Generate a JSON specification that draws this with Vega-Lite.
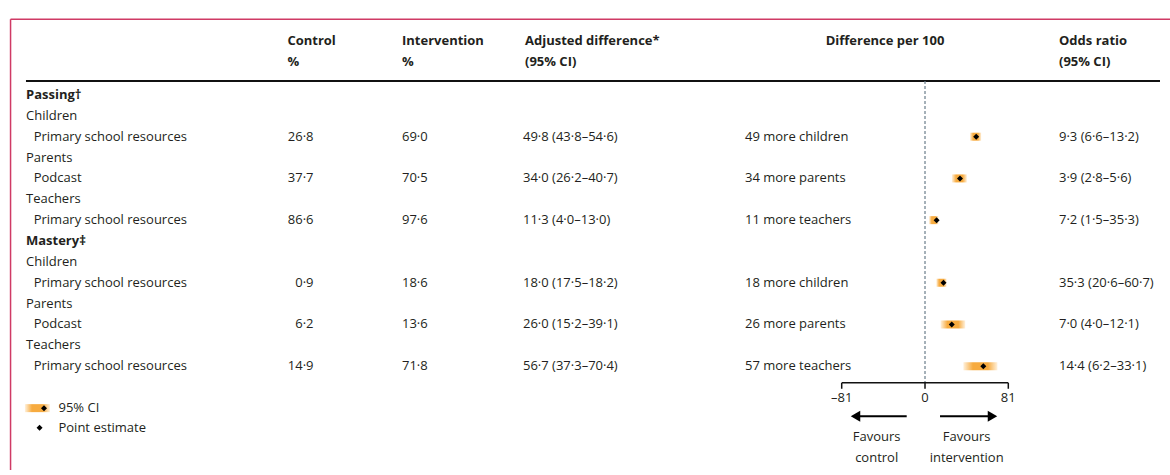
{
  "$schema": "https://vega.github.io/schema/vega-lite/v6.json",
  "width": 1170,
  "height": 475,
  "autosize": {"type": "none"},
  "padding": 0,
  "background": "white",
  "config": {
    "view": {"stroke": null},
    "text": {"font": "Open Sans", "fontSize": 13, "color": "#231f20", "baseline": "middle"}
  },
  "datasets": {
    "frame": [{"part": "frame"}],
    "rows": [
      {"line": 0, "label": "Passing†", "kind": "section"},
      {"line": 1, "label": "Children", "kind": "group"},
      {"line": 2, "label": "Primary school resources", "kind": "item", "control": "26·8", "intervention": "69·0", "adjusted": "49·8 (43·8–54·6)", "per100": "49 more children", "odds": "\u20079·3 (6·6–13·2)", "est": 49.8, "lo": 43.8, "hi": 54.6},
      {"line": 3, "label": "Parents", "kind": "group"},
      {"line": 4, "label": "Podcast", "kind": "item", "control": "37·7", "intervention": "70·5", "adjusted": "34·0 (26·2–40·7)", "per100": "34 more parents", "odds": "\u20073·9 (2·8–5·6)", "est": 34.0, "lo": 26.2, "hi": 40.7},
      {"line": 5, "label": "Teachers", "kind": "group"},
      {"line": 6, "label": "Primary school resources", "kind": "item", "control": "86·6", "intervention": "97·6", "adjusted": "11·3 (4·0–13·0)", "per100": "11 more teachers", "odds": "\u20077·2 (1·5–35·3)", "est": 11.3, "lo": 4.0, "hi": 13.0},
      {"line": 7, "label": "Mastery‡", "kind": "section"},
      {"line": 8, "label": "Children", "kind": "group"},
      {"line": 9, "label": "Primary school resources", "kind": "item", "control": "0·9", "intervention": "18·6", "adjusted": "18·0 (17·5–18·2)", "per100": "18 more children", "odds": "35·3 (20·6–60·7)", "est": 18.0, "lo": 11.0, "hi": 21.0},
      {"line": 10, "label": "Parents", "kind": "group"},
      {"line": 11, "label": "Podcast", "kind": "item", "control": "6·2", "intervention": "13·6", "adjusted": "26·0 (15·2–39·1)", "per100": "26 more parents", "odds": "\u20077·0 (4·0–12·1)", "est": 26.0, "lo": 15.2, "hi": 39.1},
      {"line": 12, "label": "Teachers", "kind": "group"},
      {"line": 13, "label": "Primary school resources", "kind": "item", "control": "14·9", "intervention": "71·8", "adjusted": "56·7 (37·3–70·4)", "per100": "57 more teachers", "odds": "14·4 (6·2–33·1)", "est": 56.7, "lo": 37.3, "hi": 70.4}
    ],
    "headers": [
      {"col": "control", "lines": ["Control", "%"]},
      {"col": "intervention", "lines": ["Intervention", "%"]},
      {"col": "adjusted", "lines": ["Adjusted difference*", "(95% CI)"]},
      {"col": "per100", "lines": ["Difference per 100"]},
      {"col": "odds", "lines": ["Odds ratio", "(95% CI)"]}
    ],
    "ticks": [
      {"v": -81, "label": "–81"},
      {"v": 0, "label": "0"},
      {"v": 81, "label": "81"}
    ],
    "notes": [
      {"id": "ci", "text": "95% CI"},
      {"id": "pe", "text": "Point estimate"},
      {"id": "fc", "text": ["Favours", "control"]},
      {"id": "fi", "text": ["Favours", "intervention"]}
    ]
  },
  "data": {"name": "frame"},
  "layer": [
    {
      "mark": {"type": "rule", "color": "#cf3a65", "strokeWidth": 1.5},
      "encoding": {
        "x": {"datum": -889.2, "type": "quantitative", "scale": {"domain": [-899.46, 238.23], "nice": false, "zero": false}, "axis": null},
        "x2": {"datum": 238.23},
        "y": {"datum": -3.632, "type": "quantitative", "scale": {"domain": [-4.312, 17.975], "nice": false, "zero": false, "reverse": true}, "axis": null}
      }
    },
    {
      "mark": {"type": "rule", "color": "#cf3a65", "strokeWidth": 1.5},
      "encoding": {
        "x": {"datum": -889.2, "type": "quantitative", "scale": {"domain": [-899.46, 238.23], "nice": false, "zero": false}, "axis": null},
        "y": {"datum": -3.632, "type": "quantitative", "scale": {"domain": [-4.312, 17.975], "nice": false, "zero": false, "reverse": true}, "axis": null},
        "y2": {"datum": 17.975}
      }
    },
    {
      "mark": {"type": "rule", "color": "#111111", "strokeWidth": 2},
      "encoding": {
        "x": {"datum": -874.2, "type": "quantitative", "scale": {"domain": [-899.46, 238.23], "nice": false, "zero": false}, "axis": null},
        "x2": {"datum": 228.5},
        "y": {"datum": -0.666, "type": "quantitative", "scale": {"domain": [-4.312, 17.975], "nice": false, "zero": false, "reverse": true}, "axis": null}
      }
    },
    {
      "mark": {"type": "rule", "color": "#6a7d8a", "strokeWidth": 1.2, "strokeDash": [3, 2]},
      "encoding": {
        "x": {"datum": 0, "type": "quantitative", "scale": {"domain": [-899.46, 238.23], "nice": false, "zero": false}, "axis": null},
        "y": {"datum": -0.666, "type": "quantitative", "scale": {"domain": [-4.312, 17.975], "nice": false, "zero": false, "reverse": true}, "axis": null},
        "y2": {"datum": 13.799}
      }
    },
    {
      "data": {"name": "rows"},
      "transform": [{"filter": "datum.kind === 'item'"}],
      "mark": {"type": "bar", "orient": "horizontal", "height": 8, "color": {"gradient": "linear", "stops": [{"offset": 0, "color": "#fff1dc"}, {"offset": 0.28, "color": "#f7ab3f"}, {"offset": 0.72, "color": "#f7ab3f"}, {"offset": 1, "color": "#fff1dc"}]}},
      "encoding": {
        "x": {"field": "lo", "type": "quantitative", "scale": {"domain": [-899.46, 238.23], "nice": false, "zero": false}, "axis": null},
        "x2": {"field": "hi"},
        "y": {"field": "line", "type": "quantitative", "scale": {"domain": [-4.312, 17.975], "nice": false, "zero": false, "reverse": true}, "axis": null}
      }
    },
    {
      "data": {"name": "rows"},
      "transform": [{"filter": "datum.kind === 'item'"}],
      "mark": {"type": "point", "shape": "diamond", "filled": true, "color": "#000000", "size": 36, "opacity": 1},
      "encoding": {
        "x": {"field": "est", "type": "quantitative", "scale": {"domain": [-899.46, 238.23], "nice": false, "zero": false}, "axis": null},
        "y": {"field": "line", "type": "quantitative", "scale": {"domain": [-4.312, 17.975], "nice": false, "zero": false, "reverse": true}, "axis": null}
      }
    },
    {
      "mark": {"type": "rule", "color": "#111111", "strokeWidth": 1.5},
      "encoding": {
        "x": {"datum": -81, "type": "quantitative", "scale": {"domain": [-899.46, 238.23], "nice": false, "zero": false}, "axis": null},
        "x2": {"datum": 81},
        "y": {"datum": 13.799, "type": "quantitative", "scale": {"domain": [-4.312, 17.975], "nice": false, "zero": false, "reverse": true}, "axis": null}
      }
    },
    {
      "data": {"name": "ticks"},
      "mark": {"type": "rule", "color": "#111111", "strokeWidth": 1.5},
      "encoding": {
        "x": {"field": "v", "type": "quantitative", "scale": {"domain": [-899.46, 238.23], "nice": false, "zero": false}, "axis": null},
        "y": {"datum": 13.799, "type": "quantitative", "scale": {"domain": [-4.312, 17.975], "nice": false, "zero": false, "reverse": true}, "axis": null},
        "y2": {"datum": 14.081}
      }
    },
    {
      "data": {"name": "ticks"},
      "mark": {"type": "text", "align": "center"},
      "encoding": {
        "x": {"field": "v", "type": "quantitative", "scale": {"domain": [-899.46, 238.23], "nice": false, "zero": false}, "axis": null},
        "y": {"datum": 14.53, "type": "quantitative", "scale": {"domain": [-4.312, 17.975], "nice": false, "zero": false, "reverse": true}, "axis": null},
        "text": {"field": "label", "type": "nominal"}
      }
    },
    {
      "mark": {"type": "rule", "color": "#000000", "strokeWidth": 2},
      "encoding": {
        "x": {"datum": -17.8, "type": "quantitative", "scale": {"domain": [-899.46, 238.23], "nice": false, "zero": false}, "axis": null},
        "x2": {"datum": -66},
        "y": {"datum": 15.394, "type": "quantitative", "scale": {"domain": [-4.312, 17.975], "nice": false, "zero": false, "reverse": true}, "axis": null}
      }
    },
    {
      "mark": {"type": "rule", "color": "#000000", "strokeWidth": 2},
      "encoding": {
        "x": {"datum": 14.6, "type": "quantitative", "scale": {"domain": [-899.46, 238.23], "nice": false, "zero": false}, "axis": null},
        "x2": {"datum": 64},
        "y": {"datum": 15.394, "type": "quantitative", "scale": {"domain": [-4.312, 17.975], "nice": false, "zero": false, "reverse": true}, "axis": null}
      }
    },
    {
      "mark": {"type": "point", "shape": "triangle-left", "filled": true, "color": "#000000", "size": 120, "opacity": 1},
      "encoding": {
        "x": {"datum": -67.6, "type": "quantitative", "scale": {"domain": [-899.46, 238.23], "nice": false, "zero": false}, "axis": null},
        "y": {"datum": 15.394, "type": "quantitative", "scale": {"domain": [-4.312, 17.975], "nice": false, "zero": false, "reverse": true}, "axis": null}
      }
    },
    {
      "mark": {"type": "point", "shape": "triangle-right", "filled": true, "color": "#000000", "size": 120, "opacity": 1},
      "encoding": {
        "x": {"datum": 65.6, "type": "quantitative", "scale": {"domain": [-899.46, 238.23], "nice": false, "zero": false}, "axis": null},
        "y": {"datum": 15.394, "type": "quantitative", "scale": {"domain": [-4.312, 17.975], "nice": false, "zero": false, "reverse": true}, "axis": null}
      }
    },
    {
      "data": {"name": "notes"},
      "transform": [{"filter": "datum.id === 'fc'"}],
      "mark": {"type": "text", "align": "center", "lineHeight": 21},
      "encoding": {
        "x": {"datum": -47, "type": "quantitative", "scale": {"domain": [-899.46, 238.23], "nice": false, "zero": false}, "axis": null},
        "y": {"datum": 16.41, "type": "quantitative", "scale": {"domain": [-4.312, 17.975], "nice": false, "zero": false, "reverse": true}, "axis": null},
        "text": {"field": "text", "type": "nominal"}
      }
    },
    {
      "data": {"name": "notes"},
      "transform": [{"filter": "datum.id === 'fi'"}],
      "mark": {"type": "text", "align": "center", "lineHeight": 21},
      "encoding": {
        "x": {"datum": 40.5, "type": "quantitative", "scale": {"domain": [-899.46, 238.23], "nice": false, "zero": false}, "axis": null},
        "y": {"datum": 16.41, "type": "quantitative", "scale": {"domain": [-4.312, 17.975], "nice": false, "zero": false, "reverse": true}, "axis": null},
        "text": {"field": "text", "type": "nominal"}
      }
    },
    {
      "mark": {"type": "bar", "orient": "horizontal", "height": 8, "color": {"gradient": "linear", "stops": [{"offset": 0, "color": "#fff1dc"}, {"offset": 0.28, "color": "#f7ab3f"}, {"offset": 0.72, "color": "#f7ab3f"}, {"offset": 1, "color": "#fff1dc"}]}},
      "encoding": {
        "x": {"datum": -875.2, "type": "quantitative", "scale": {"domain": [-899.46, 238.23], "nice": false, "zero": false}, "axis": null},
        "x2": {"datum": -850.9},
        "y": {"datum": 15.01, "type": "quantitative", "scale": {"domain": [-4.312, 17.975], "nice": false, "zero": false, "reverse": true}, "axis": null}
      }
    },
    {
      "mark": {"type": "point", "shape": "diamond", "filled": true, "color": "#000000", "size": 36, "opacity": 1},
      "encoding": {
        "x": {"datum": -856.7, "type": "quantitative", "scale": {"domain": [-899.46, 238.23], "nice": false, "zero": false}, "axis": null},
        "y": {"datum": 15.01, "type": "quantitative", "scale": {"domain": [-4.312, 17.975], "nice": false, "zero": false, "reverse": true}, "axis": null}
      }
    },
    {
      "mark": {"type": "point", "shape": "diamond", "filled": true, "color": "#000000", "size": 36, "opacity": 1},
      "encoding": {
        "x": {"datum": -861.0, "type": "quantitative", "scale": {"domain": [-899.46, 238.23], "nice": false, "zero": false}, "axis": null},
        "y": {"datum": 15.95, "type": "quantitative", "scale": {"domain": [-4.312, 17.975], "nice": false, "zero": false, "reverse": true}, "axis": null}
      }
    },
    {
      "data": {"name": "notes"},
      "transform": [{"filter": "datum.id === 'ci'"}],
      "mark": {"type": "text", "align": "left"},
      "encoding": {
        "x": {"datum": -842.6, "type": "quantitative", "scale": {"domain": [-899.46, 238.23], "nice": false, "zero": false}, "axis": null},
        "y": {"datum": 15.01, "type": "quantitative", "scale": {"domain": [-4.312, 17.975], "nice": false, "zero": false, "reverse": true}, "axis": null},
        "text": {"field": "text", "type": "nominal"}
      }
    },
    {
      "data": {"name": "notes"},
      "transform": [{"filter": "datum.id === 'pe'"}],
      "mark": {"type": "text", "align": "left"},
      "encoding": {
        "x": {"datum": -842.6, "type": "quantitative", "scale": {"domain": [-899.46, 238.23], "nice": false, "zero": false}, "axis": null},
        "y": {"datum": 15.95, "type": "quantitative", "scale": {"domain": [-4.312, 17.975], "nice": false, "zero": false, "reverse": true}, "axis": null},
        "text": {"field": "text", "type": "nominal"}
      }
    },
    {
      "data": {"name": "headers"},
      "transform": [{"filter": "datum.col === 'control'"}],
      "mark": {"type": "text", "align": "left", "fontWeight": "bold", "lineHeight": 21},
      "encoding": {
        "x": {"datum": -620.0, "type": "quantitative", "scale": {"domain": [-899.46, 238.23], "nice": false, "zero": false}, "axis": null},
        "y": {"datum": -2.59, "type": "quantitative", "scale": {"domain": [-4.312, 17.975], "nice": false, "zero": false, "reverse": true}, "axis": null},
        "text": {"field": "lines", "type": "nominal"}
      }
    },
    {
      "data": {"name": "headers"},
      "transform": [{"filter": "datum.col === 'intervention'"}],
      "mark": {"type": "text", "align": "left", "fontWeight": "bold", "lineHeight": 21},
      "encoding": {
        "x": {"datum": -508.56, "type": "quantitative", "scale": {"domain": [-899.46, 238.23], "nice": false, "zero": false}, "axis": null},
        "y": {"datum": -2.59, "type": "quantitative", "scale": {"domain": [-4.312, 17.975], "nice": false, "zero": false, "reverse": true}, "axis": null},
        "text": {"field": "lines", "type": "nominal"}
      }
    },
    {
      "data": {"name": "headers"},
      "transform": [{"filter": "datum.col === 'adjusted'"}],
      "mark": {"type": "text", "align": "left", "fontWeight": "bold", "lineHeight": 21},
      "encoding": {
        "x": {"datum": -388.96, "type": "quantitative", "scale": {"domain": [-899.46, 238.23], "nice": false, "zero": false}, "axis": null},
        "y": {"datum": -2.59, "type": "quantitative", "scale": {"domain": [-4.312, 17.975], "nice": false, "zero": false, "reverse": true}, "axis": null},
        "text": {"field": "lines", "type": "nominal"}
      }
    },
    {
      "data": {"name": "headers"},
      "transform": [{"filter": "datum.col === 'per100'"}],
      "mark": {"type": "text", "align": "center", "fontWeight": "bold", "lineHeight": 21},
      "encoding": {
        "x": {"datum": -38.9, "type": "quantitative", "scale": {"domain": [-899.46, 238.23], "nice": false, "zero": false}, "axis": null},
        "y": {"datum": -2.59, "type": "quantitative", "scale": {"domain": [-4.312, 17.975], "nice": false, "zero": false, "reverse": true}, "axis": null},
        "text": {"field": "lines", "type": "nominal"}
      }
    },
    {
      "data": {"name": "headers"},
      "transform": [{"filter": "datum.col === 'odds'"}],
      "mark": {"type": "text", "align": "left", "fontWeight": "bold", "lineHeight": 21},
      "encoding": {
        "x": {"datum": 130.3, "type": "quantitative", "scale": {"domain": [-899.46, 238.23], "nice": false, "zero": false}, "axis": null},
        "y": {"datum": -2.59, "type": "quantitative", "scale": {"domain": [-4.312, 17.975], "nice": false, "zero": false, "reverse": true}, "axis": null},
        "text": {"field": "lines", "type": "nominal"}
      }
    },
    {
      "data": {"name": "rows"},
      "transform": [{"filter": "datum.kind === 'section'"}],
      "mark": {"type": "text", "align": "left", "fontWeight": "bold"},
      "encoding": {
        "x": {"datum": -874.2, "type": "quantitative", "scale": {"domain": [-899.46, 238.23], "nice": false, "zero": false}, "axis": null},
        "y": {"field": "line", "type": "quantitative", "scale": {"domain": [-4.312, 17.975], "nice": false, "zero": false, "reverse": true}, "axis": null},
        "text": {"field": "label", "type": "nominal"}
      }
    },
    {
      "data": {"name": "rows"},
      "transform": [{"filter": "datum.kind === 'group'"}],
      "mark": {"type": "text", "align": "left"},
      "encoding": {
        "x": {"datum": -874.2, "type": "quantitative", "scale": {"domain": [-899.46, 238.23], "nice": false, "zero": false}, "axis": null},
        "y": {"field": "line", "type": "quantitative", "scale": {"domain": [-4.312, 17.975], "nice": false, "zero": false, "reverse": true}, "axis": null},
        "text": {"field": "label", "type": "nominal"}
      }
    },
    {
      "data": {"name": "rows"},
      "transform": [{"filter": "datum.kind === 'item'"}],
      "mark": {"type": "text", "align": "left"},
      "encoding": {
        "x": {"datum": -866.7, "type": "quantitative", "scale": {"domain": [-899.46, 238.23], "nice": false, "zero": false}, "axis": null},
        "y": {"field": "line", "type": "quantitative", "scale": {"domain": [-4.312, 17.975], "nice": false, "zero": false, "reverse": true}, "axis": null},
        "text": {"field": "label", "type": "nominal"}
      }
    },
    {
      "data": {"name": "rows"},
      "transform": [{"filter": "datum.kind === 'item'"}],
      "mark": {"type": "text", "align": "right"},
      "encoding": {
        "x": {"datum": -594.6, "type": "quantitative", "scale": {"domain": [-899.46, 238.23], "nice": false, "zero": false}, "axis": null},
        "y": {"field": "line", "type": "quantitative", "scale": {"domain": [-4.312, 17.975], "nice": false, "zero": false, "reverse": true}, "axis": null},
        "text": {"field": "control", "type": "nominal"}
      }
    },
    {
      "data": {"name": "rows"},
      "transform": [{"filter": "datum.kind === 'item'"}],
      "mark": {"type": "text", "align": "left"},
      "encoding": {
        "x": {"datum": -508.56, "type": "quantitative", "scale": {"domain": [-899.46, 238.23], "nice": false, "zero": false}, "axis": null},
        "y": {"field": "line", "type": "quantitative", "scale": {"domain": [-4.312, 17.975], "nice": false, "zero": false, "reverse": true}, "axis": null},
        "text": {"field": "intervention", "type": "nominal"}
      }
    },
    {
      "data": {"name": "rows"},
      "transform": [{"filter": "datum.kind === 'item'"}],
      "mark": {"type": "text", "align": "left"},
      "encoding": {
        "x": {"datum": -390.9, "type": "quantitative", "scale": {"domain": [-899.46, 238.23], "nice": false, "zero": false}, "axis": null},
        "y": {"field": "line", "type": "quantitative", "scale": {"domain": [-4.312, 17.975], "nice": false, "zero": false, "reverse": true}, "axis": null},
        "text": {"field": "adjusted", "type": "nominal"}
      }
    },
    {
      "data": {"name": "rows"},
      "transform": [{"filter": "datum.kind === 'item'"}],
      "mark": {"type": "text", "align": "left"},
      "encoding": {
        "x": {"datum": -175.03, "type": "quantitative", "scale": {"domain": [-899.46, 238.23], "nice": false, "zero": false}, "axis": null},
        "y": {"field": "line", "type": "quantitative", "scale": {"domain": [-4.312, 17.975], "nice": false, "zero": false, "reverse": true}, "axis": null},
        "text": {"field": "per100", "type": "nominal"}
      }
    },
    {
      "data": {"name": "rows"},
      "transform": [{"filter": "datum.kind === 'item'"}],
      "mark": {"type": "text", "align": "left"},
      "encoding": {
        "x": {"datum": 130.3, "type": "quantitative", "scale": {"domain": [-899.46, 238.23], "nice": false, "zero": false}, "axis": null},
        "y": {"field": "line", "type": "quantitative", "scale": {"domain": [-4.312, 17.975], "nice": false, "zero": false, "reverse": true}, "axis": null},
        "text": {"field": "odds", "type": "nominal"}
      }
    }
  ]
}
